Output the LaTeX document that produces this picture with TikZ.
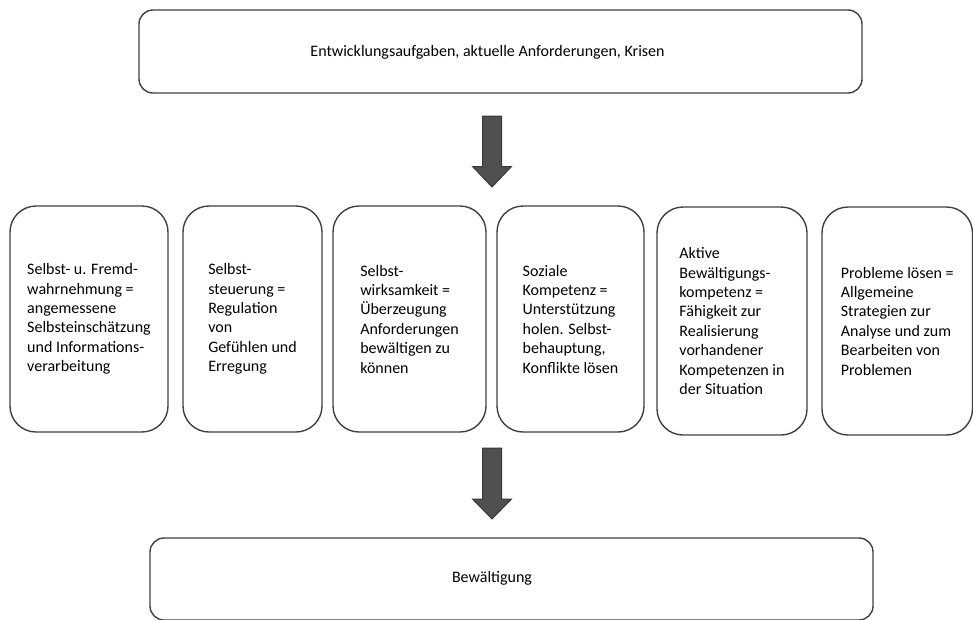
\documentclass[tikz,border=0pt]{standalone}
\usepackage{fontspec}
\setmainfont{Carlito}

\definecolor{rand}{HTML}{404040}
\definecolor{pfeilgrau}{HTML}{505050}
\definecolor{pfeilrand}{HTML}{3A3A3A}

\tikzset{
  kasten/.style={draw=rand, line width=1.4pt, rounded corners=26pt, align=left,
    inner sep=0pt, font=\fontsize{16}{19.4}\selectfont},
  balken/.style={draw=rand, line width=1.4pt, rounded corners=14pt, inner sep=0pt},
  beschriftung/.style={inner sep=0pt, font=\fontsize{16}{19.4}\selectfont},
  pfeil/.style={fill=pfeilgrau, draw=pfeilrand, line width=1pt, line join=miter}
}

\begin{document}
\begin{tikzpicture}[x=1pt, y=-1pt]
\useasboundingbox (0,0) rectangle (973,619);

% obere Leiste
\node[balken, minimum width=723pt, minimum height=83pt] (anforderungen) at (500.5,51.5) {};
\node[beschriftung] (anforderungen-text) at (487.5,52) {Entwicklungsaufgaben, aktuelle Anforderungen, Krisen};

\filldraw[pfeil] (482.5,116) -- (501.5,116) -- (501.5,166.5) -- (511.5,166.5)
  -- (492,187) -- (472.5,166.5) -- (482.5,166.5) -- cycle;

% die sechs Kompetenzen
\node[kasten, minimum width=158pt, minimum height=226pt] (wahrnehmung) at (89,319)
  {Selbst- u. Fremd-\\wahrnehmung =\\angemessene\\Selbsteinschätzung\\und Informations-\\verarbeitung};
\node[kasten, minimum width=139pt, minimum height=226pt] (steuerung) at (252.5,319)
  {Selbst-\\steuerung =\\Regulation\\von\\Gefühlen und\\Erregung};
\node[kasten, minimum width=153pt, minimum height=226pt] (wirksamkeit) at (409.5,319)
  {Selbst-\\wirksamkeit =\\Überzeugung\\Anforderungen\\bewältigen zu\\können};
\node[kasten, minimum width=147pt, minimum height=226pt] (sozial) at (570.5,319)
  {Soziale\\Kompetenz =\\Unterstützung\\holen. Selbst-\\behauptung,\\Konflikte lösen};
\node[kasten, minimum width=150pt, minimum height=228pt] (aktiv) at (732,321)
  {Aktive\\Bewältigungs-\\kompetenz =\\Fähigkeit zur\\Realisierung\\vorhandener\\Kompetenzen in\\der Situation};
\node[kasten, minimum width=150.5pt, minimum height=228pt] (probleme) at (897.25,321)
  {Probleme lösen =\\Allgemeine\\Strategien zur\\Analyse und zum\\Bearbeiten von\\Problemen};

\filldraw[pfeil] (482.5,448) -- (501.5,448) -- (501.5,499) -- (511.5,499)
  -- (492,519) -- (472.5,499) -- (482.5,499) -- cycle;

% untere Leiste
\node[balken, minimum width=723pt, minimum height=82pt] (bewaeltigung) at (511.5,579) {};
\node[beschriftung] (bewaeltigung-text) at (492,578) {Bewältigung};

\end{tikzpicture}
\end{document}
